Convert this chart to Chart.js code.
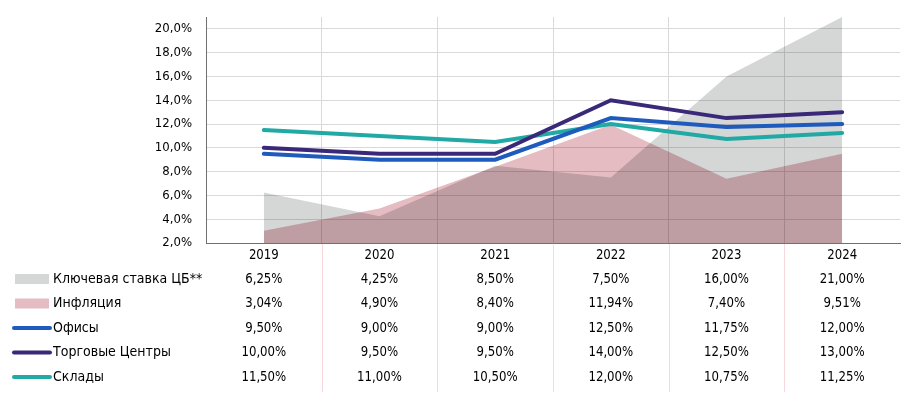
<!DOCTYPE html>
<html>
<head>
<meta charset="utf-8">
<script src="https://cdn.jsdelivr.net/npm/chart.js@4/dist/chart.umd.min.js"></script>
<style>
    html, body { margin: 0; padding: 0; background: #fff; }
    canvas { display: block; }
</style>
</head>
<body>
<canvas id="ratesChart" width="910" height="397"></canvas>
<script>
// Chart data
const years = ['2019', '2020', '2021', '2022', '2023', '2024'];
const keyRate = [6.25, 4.25, 8.5, 7.5, 16.0, 21.0];
const inflation = [3.04, 4.9, 8.4, 11.94, 7.4, 9.51];
const offices = [9.5, 9.0, 9.0, 12.5, 11.75, 12.0];
const malls = [10.0, 9.5, 9.5, 14.0, 12.5, 13.0];
const warehouses = [11.5, 11.0, 10.5, 12.0, 10.75, 11.25];
const yTicks = [2, 4, 6, 8, 10, 12, 14, 16, 18, 20];

const FONT = "'Liberation Sans Narrow', 'DejaVu Sans Condensed', sans-serif";
const TEXT = '#000';

// Rows of the table under the chart (same order as in the picture)
const rows = [
    { label: 'Ключевая ставка ЦБ**', data: keyRate, color: '#d5d6d6', type: 'box' },
    { label: 'Инфляция', data: inflation, color: '#e4bcc2', type: 'box' },
    { label: 'Офисы', data: offices, color: '#1f5bbd', type: 'line' },
    { label: 'Торговые Центры', data: malls, color: '#3a2878', type: 'line' },
    { label: 'Склады', data: warehouses, color: '#20a9a5', type: 'line' }
];

function fmt(v, digits) {
    return v.toFixed(digits).replace('.', ',') + '%';
}

// narrow the digits a bit, the original uses a condensed face
function narrowText(ctx, text, x, y) {
    ctx.save();
    ctx.translate(x, y);
    ctx.scale(0.9, 1);
    ctx.fillText(text, 0, 0);
    ctx.restore();
}

// Overlapping areas are blended like in the original (darker where they cross)
const blendPlugin = {
    id: 'blendAreas',
    beforeDatasetsDraw(chart) {
        chart.ctx.save();
        chart.ctx.globalCompositeOperation = 'multiply';
    },
    beforeDatasetDraw(chart, args) {
        if (!args.meta.dataset.options.fill) {
            chart.ctx.globalCompositeOperation = 'source-over';
        }
    },
    afterDatasetsDraw(chart) {
        chart.ctx.restore();
    }
};

// Data table with legend markers
const tablePlugin = {
    id: 'dataTable',
    afterDraw(chart) {
        const ctx = chart.ctx;
        const xs = chart.scales.x;
        const bottom = chart.chartArea.bottom;

        ctx.save();
        // pink column separators
        ctx.strokeStyle = '#f6d8dd';
        ctx.lineWidth = 1;
        for (let i = 1; i < years.length; i++) {
            const x = Math.round((xs.getPixelForValue(i - 1) + xs.getPixelForValue(i)) / 2) + 0.5;
            ctx.beginPath();
            ctx.moveTo(x, bottom + 1);
            ctx.lineTo(x, 392);
            ctx.stroke();
        }

        ctx.textBaseline = 'middle';
        ctx.fillStyle = TEXT;
        ctx.textAlign = 'center';
        ctx.font = '14.5px ' + FONT;
        // header row with years
        years.forEach((yr, i) => narrowText(ctx, yr, xs.getPixelForValue(i), 255));

        rows.forEach((row, r) => {
            const y = 279 + r * 24.5;
            if (row.type === 'box') {
                ctx.fillStyle = row.color;
                ctx.fillRect(15, y - 5, 34, 10);
            } else {
                ctx.strokeStyle = row.color;
                ctx.lineWidth = 4;
                ctx.lineCap = 'round';
                ctx.beginPath();
                ctx.moveTo(14, y);
                ctx.lineTo(50, y);
                ctx.stroke();
            }
            ctx.fillStyle = TEXT;
            ctx.textAlign = 'left';
            ctx.font = '14px ' + FONT;
            ctx.fillText(row.label, 53, y);
            ctx.textAlign = 'center';
            ctx.font = '14.5px ' + FONT;
            row.data.forEach((v, i) => {
                narrowText(ctx, fmt(v, 2), xs.getPixelForValue(i), y);
            });
        });
        ctx.restore();
    }
};

function areaSet(label, data, color) {
    return {
        label: label,
        data: data,
        backgroundColor: color,
        borderWidth: 0,
        pointRadius: 0,
        fill: 'start',
        order: 2
    };
}

function lineSet(label, data, color) {
    return {
        label: label,
        data: data,
        borderColor: color,
        borderWidth: 4,
        borderCapStyle: 'round',
        pointRadius: 0,
        fill: false,
        order: 1
    };
}

new Chart(document.getElementById('ratesChart'), {
    type: 'line',
    data: {
        labels: years,
        datasets: [
            lineSet(rows[2].label, offices, rows[2].color),
            lineSet(rows[3].label, malls, rows[3].color),
            lineSet(rows[4].label, warehouses, rows[4].color),
            areaSet(rows[1].label, inflation, rows[1].color),
            areaSet(rows[0].label, keyRate, rows[0].color)
        ]
    },
    options: {
        responsive: false,
        animation: false,
        events: [],
        layout: { padding: { top: 17, right: 10, left: 0, bottom: 0 } },
        plugins: {
            legend: { display: false },
            tooltip: { enabled: false },
            title: { display: false }
        },
        scales: {
            x: {
                offset: true,
                grid: {
                    offset: true,
                    drawTicks: false,
                    color: c => (c.index > 0 && c.index < years.length) ? '#d9d9d9' : 'rgba(0,0,0,0)'
                },
                border: { color: '#707070', width: 1 },
                ticks: { display: false },
                afterFit: scale => {
                    scale.height = 154;
                    scale.paddingLeft = 0;
                    scale.paddingRight = 0;
                }
            },
            y: {
                min: 2,
                max: 21,
                grid: { color: '#d9d9d9', drawTicks: false },
                border: { color: '#707070', width: 1 },
                afterBuildTicks: scale => {
                    scale.ticks = yTicks.map(v => ({ value: v }));
                },
                ticks: {
                    padding: 14,
                    color: TEXT,
                    font: { family: FONT, size: 13 },
                    callback: v => fmt(v, 1)
                },
                afterFit: scale => {
                    scale.width = 206;
                    scale.paddingTop = 0;
                    scale.paddingBottom = 0;
                }
            }
        }
    },
    plugins: [blendPlugin, tablePlugin]
});
</script>
</body>
</html>
